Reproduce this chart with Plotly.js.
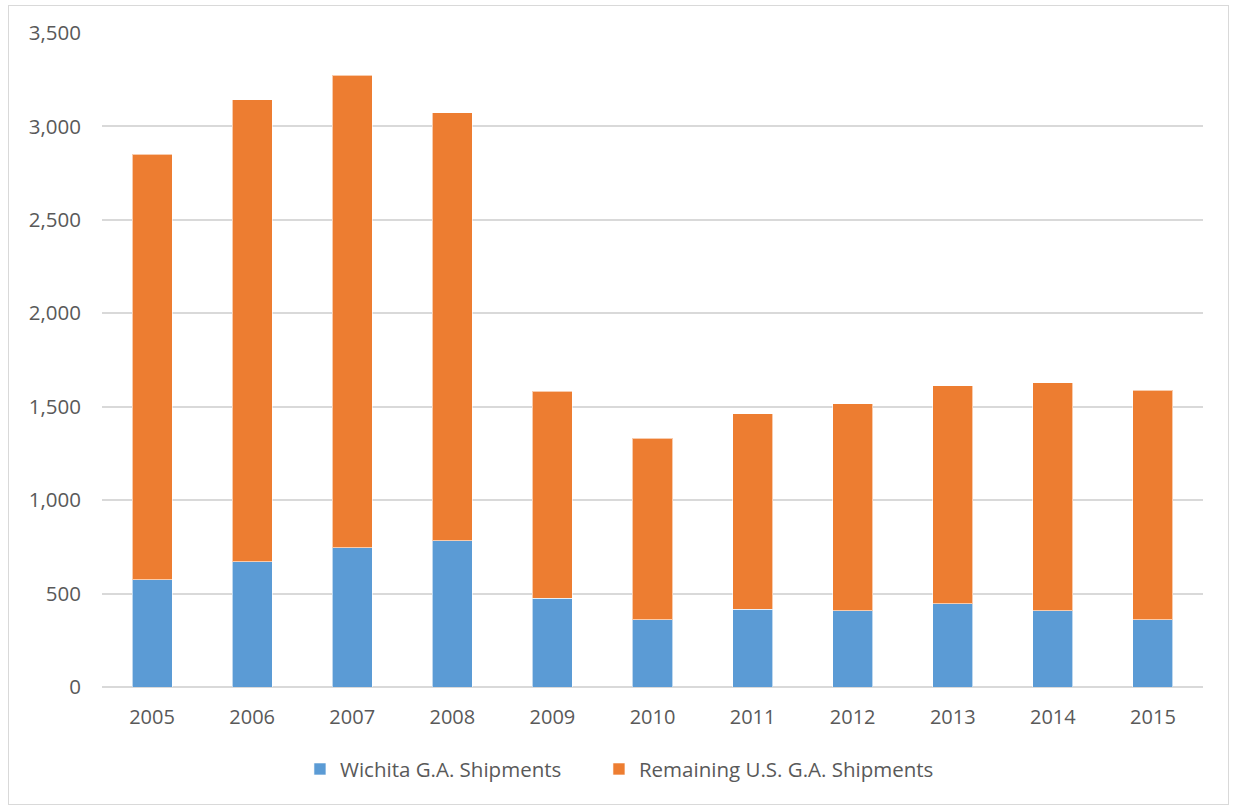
<!DOCTYPE html>
<html>
<head>
<meta charset="utf-8">
<script src="https://cdn.plot.ly/plotly-3.0.1.min.js"></script>
<style>
  html, body { margin: 0; padding: 0; background: #ffffff; }
  #wrap { position: relative; width: 1233px; height: 808px; }
  #chart { position: absolute; left: 0; top: 0; width: 1233px; height: 808px; }
  #frame { position: absolute; left: 8px; top: 5px; width: 1221px; height: 800px; border: 1.5px solid #d9d9d9; box-sizing: border-box; pointer-events: none; }
</style>
</head>
<body>
<div id="wrap">
  <div id="chart"></div>
  <div id="frame"></div>
</div>
<script>
const years = ["2005", "2006", "2007", "2008", "2009", "2010", "2011", "2012", "2013", "2014", "2015"];
const wichitaShipments = [575, 671, 746, 784, 474, 361, 416, 409, 445, 409, 361];
const remainingShipments = [2277, 2472, 2529, 2290, 1109, 969, 1047, 1106, 1166, 1218, 1227];
const seriesNames = ["Wichita G.A. Shipments", "Remaining U.S. G.A. Shipments"];
const yTickVals = [0, 500, 1000, 1500, 2000, 2500, 3000, 3500];

const textColor = "#595959";
const fontFamily = "'Open Sans', 'DejaVu Sans', sans-serif";

const traces = [
  {
    type: "bar",
    name: seriesNames[0],
    x: years,
    y: wichitaShipments,
    legendwidth: 254,
    marker: { color: "#5b9bd5", line: { color: "rgba(255,255,255,0.6)", width: 1 } },
    hoverinfo: "x+y+name"
  },
  {
    type: "bar",
    name: seriesNames[1],
    x: years,
    y: remainingShipments,
    marker: { color: "#ed7d31", line: { color: "rgba(255,255,255,0.6)", width: 1 } },
    hoverinfo: "x+y+name"
  }
];

const layout = {
  width: 1233,
  height: 808,
  barmode: "stack",
  bargap: 0.6,
  paper_bgcolor: "rgba(0,0,0,0)",
  plot_bgcolor: "#ffffff",
  margin: { l: 102, r: 30, t: 33, b: 121, pad: 0, autoexpand: false },
  font: { family: fontFamily, size: 20, color: textColor },
  showlegend: true,
  legend: {
    orientation: "h",
    x: 0.1798,
    xanchor: "left",
    y: -0.095,
    yanchor: "top",
    font: { family: fontFamily, size: 20.5, color: textColor },
    traceorder: "normal"
  },
  xaxis: {
    type: "category",
    showgrid: false,
    zeroline: false,
    showline: false,
    ticks: "",
    tickfont: { family: fontFamily, size: 20, color: textColor },
    ticklabelstandoff: 16
  },
  yaxis: {
    range: [0, 3500],
    tickvals: yTickVals,
    tickformat: ",d",
    showgrid: true,
    gridcolor: "#d9d9d9",
    gridwidth: 1.5,
    zeroline: true,
    zerolinecolor: "#d9d9d9",
    zerolinewidth: 1.5,
    showline: false,
    ticks: "",
    tickfont: { family: fontFamily, size: 20.5, color: textColor },
    ticklabelstandoff: 20
  }
};

Plotly.newPlot("chart", traces, layout, { displayModeBar: false, staticPlot: false });
</script>
</body>
</html>
